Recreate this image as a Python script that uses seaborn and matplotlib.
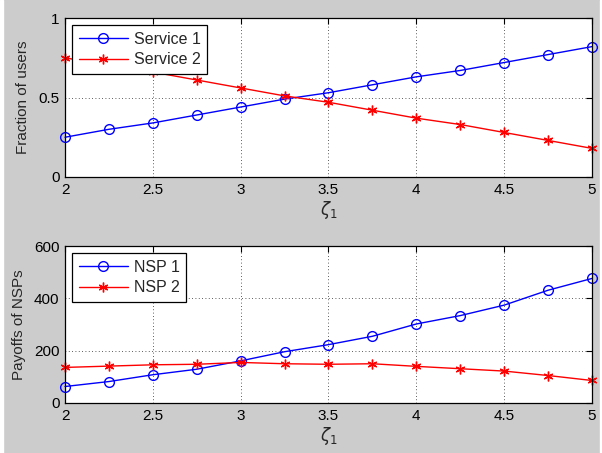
import matplotlib
matplotlib.use("Agg")
import matplotlib.pyplot as plt
import seaborn as sns
import pandas as pd
from matplotlib.patches import Rectangle

zeta = [2.0, 2.25, 2.5, 2.75, 3.0, 3.25, 3.5, 3.75, 4.0, 4.25, 4.5, 4.75, 5.0]
service1 = [0.25, 0.30, 0.34, 0.39, 0.44, 0.49, 0.53, 0.58, 0.63, 0.67, 0.72, 0.77, 0.82]
service2 = [0.75, 0.70, 0.66, 0.61, 0.56, 0.51, 0.47, 0.42, 0.37, 0.33, 0.28, 0.23, 0.18]
nsp1 = [63, 82, 108, 129, 161, 196, 223, 255, 302, 334, 374, 431, 476]
nsp2 = [136, 141, 146, 148, 155, 150, 148, 150, 140, 131, 122, 105, 86]
xticks = [2, 2.5, 3, 3.5, 4, 4.5, 5]
xticklabels = ["2", "2.5", "3", "3.5", "4", "4.5", "5"]

sns.set_style("white")
plt.rcParams['font.family'] = ['Liberation Sans', 'DejaVu Sans']
plt.rcParams['mathtext.fontset'] = 'dejavusans'

fig = plt.figure(figsize=(6.02, 4.53), dpi=100, facecolor="#cccccc")
fig.patches.append(Rectangle((0, 0), 3/602, 1, transform=fig.transFigure, color="white", zorder=-1))
fig.patches.append(Rectangle((1 - 2/602, 0), 2/602, 1, transform=fig.transFigure, color="white", zorder=-1))

ax1 = fig.add_axes([65/602, 1 - 177/453, 527/602, 159/453])
ax2 = fig.add_axes([65/602, 1 - 403/453, 527/602, 157/453])

df1 = pd.DataFrame({"x": zeta, "Service 1": service1, "Service 2": service2})
df2 = pd.DataFrame({"x": zeta, "NSP 1": nsp1, "NSP 2": nsp2})

def style(ax, yticks, yticklabels, ylim, ylabel):
    ax.set_facecolor("white")
    ax.set_xlim(2, 5)
    ax.set_ylim(*ylim)
    ax.set_xticks(xticks)
    ax.set_xticklabels(xticklabels)
    ax.set_yticks(yticks)
    ax.set_yticklabels(yticklabels)
    ax.tick_params(direction="in", length=4, width=0.8, top=True, right=True,
                   labelsize=11, colors="black", pad=4)
    ax.grid(True, linestyle=(0, (1, 3)), color="black", linewidth=0.6, alpha=0.85)
    for s in ax.spines.values():
        s.set_visible(True)
        s.set_color("black")
        s.set_linewidth(0.9)
    ax.set_xlabel(r"$\zeta_1$", fontsize=12, labelpad=2)
    ax.set_ylabel(ylabel, fontsize=11, labelpad=6)

circ = dict(color="blue", marker="o", markersize=7, markerfacecolor="none",
            markeredgecolor="blue", markeredgewidth=1.0, linewidth=1.0)
star = dict(color="red", marker=(6, 2, 0), markersize=7, markeredgecolor="red",
            markeredgewidth=1.0, linewidth=1.0)

sns.lineplot(data=df1, x="x", y="Service 1", ax=ax1, label="Service 1", **circ)
sns.lineplot(data=df1, x="x", y="Service 2", ax=ax1, label="Service 2", **star)
style(ax1, [0, 0.5, 1], ["0", "0.5", "1"], (0, 1), "Fraction of users")

sns.lineplot(data=df2, x="x", y="NSP 1", ax=ax2, label="NSP 1", **circ)
sns.lineplot(data=df2, x="x", y="NSP 2", ax=ax2, label="NSP 2", **star)
style(ax2, [0, 200, 400, 600], ["0", "200", "400", "600"], (0, 600), "Payoffs of NSPs")

for ax in (ax1, ax2):
    for line in ax.lines:
        line.set_clip_on(False)
    leg = ax.legend(loc="upper left", fontsize=11.5, frameon=True, fancybox=False,
                    edgecolor="black", framealpha=1, borderpad=0.4, labelspacing=0.35,
                    handlelength=3.1, handletextpad=0.35, borderaxespad=0.45)
    leg.get_frame().set_linewidth(0.9)

fig.savefig("out.png", dpi=100, facecolor=fig.get_facecolor())
